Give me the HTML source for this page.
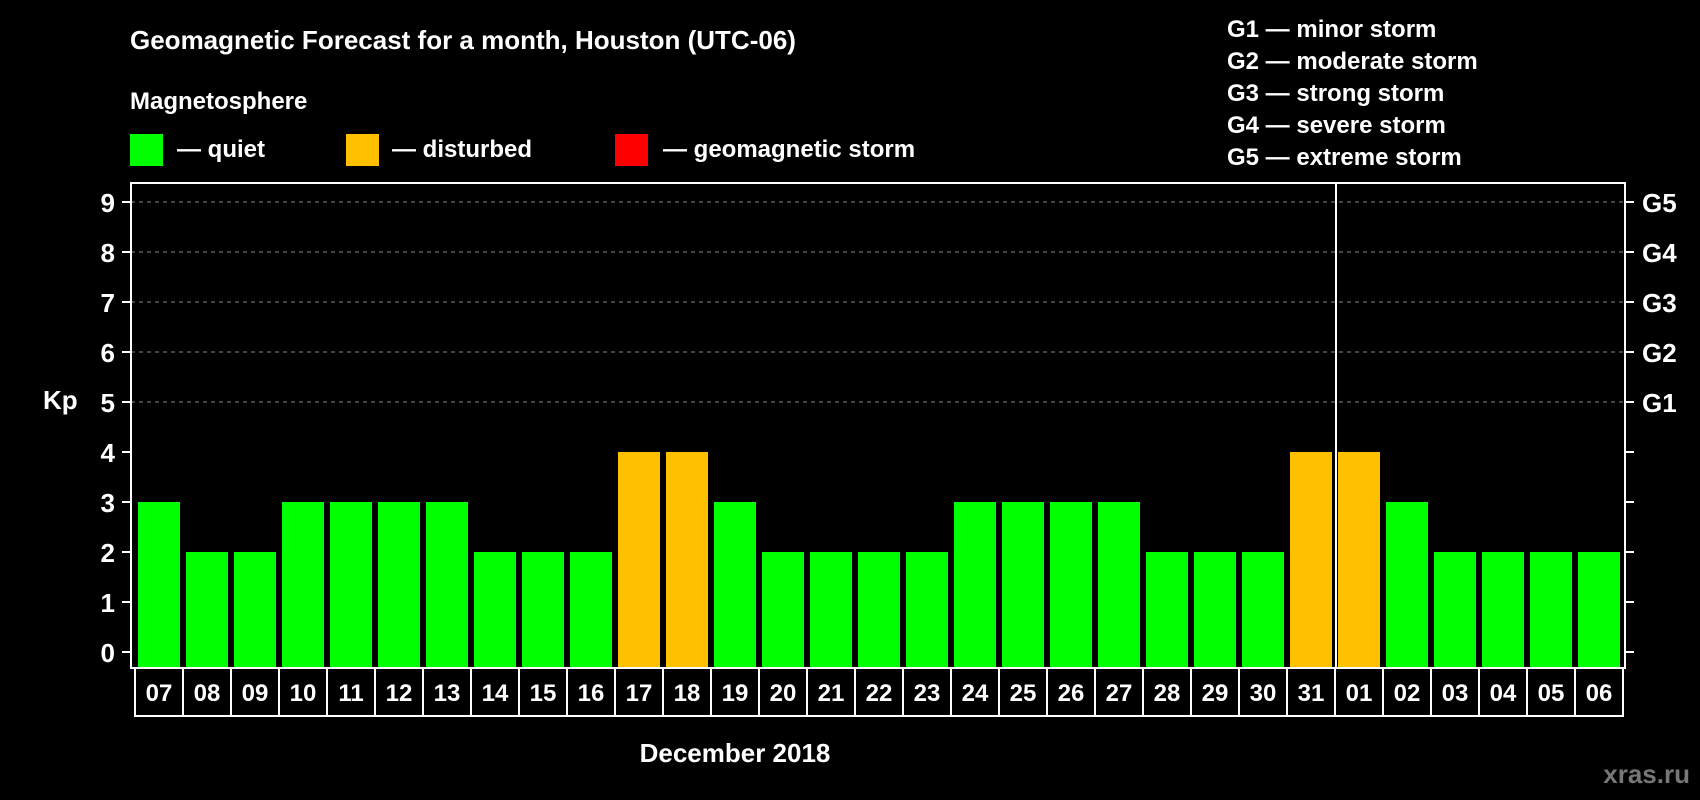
<!DOCTYPE html>
<html><head><meta charset="utf-8"><style>
body{margin:0;background:#000;}
svg{display:block;font-family:"Liberation Sans",Arial,sans-serif;font-weight:bold;}
</style></head><body>
<svg id="c" width="1700" height="800" viewBox="0 0 1700 800">
<rect width="1700" height="800" fill="#000"/>
<text x="130" y="49" fill="#fff" font-size="26">Geomagnetic Forecast for a month, Houston (UTC-06)</text>
<text x="130" y="109" fill="#fff" font-size="24">Magnetosphere</text>
<g>
<rect x="130" y="134" width="33" height="32" fill="#00ff00"/>
<text x="177" y="157" fill="#fff" font-size="24">— quiet</text>
<rect x="346" y="134" width="33" height="32" fill="#ffc000"/>
<text x="392" y="157" fill="#fff" font-size="24">— disturbed</text>
<rect x="615" y="134" width="33" height="32" fill="#ff0000"/>
<text x="663" y="157" fill="#fff" font-size="24">— geomagnetic storm</text>
</g>
<g fill="#fff" font-size="24">
<text x="1227" y="37">G1 — minor storm</text>
<text x="1227" y="69">G2 — moderate storm</text>
<text x="1227" y="101">G3 — strong storm</text>
<text x="1227" y="133">G4 — severe storm</text>
<text x="1227" y="165">G5 — extreme storm</text>
</g>
<text x="43" y="409" fill="#fff" font-size="26">Kp</text>
<text x="735" y="762" fill="#fff" font-size="26" text-anchor="middle">December 2018</text>
<text x="1690" y="783" fill="#777" font-size="26" text-anchor="end">xras.ru</text>
<g id="plot"></g>
</svg>
<script>
const days=["07","08","09","10","11","12","13","14","15","16","17","18","19","20","21","22","23","24","25","26","27","28","29","30","31","01","02","03","04","05","06"];
const kp=[3,2,2,3,3,3,3,2,2,2,4,4,3,2,2,2,2,3,3,3,3,2,2,2,4,4,3,2,2,2,2];
const yTicks=[0,1,2,3,4,5,6,7,8,9];
const gLabels=["G1","G2","G3","G4","G5"];
const gLevels=[5,6,7,8,9];
const monthBreak=25;
const NS="http://www.w3.org/2000/svg";
const g=document.getElementById('plot');
const L=131,R=1625,T=183,B=668,x0=135,step=48;
function y(v){return 652-50*v;}
function xb(i){return x0+step*i;}
function mk(t,a,p){const e=document.createElementNS(NS,t);for(const k in a)e.setAttribute(k,a[k]);(p||g).appendChild(e);return e;}
function col(v){return v>=5?"#ff0000":v>=4?"#ffc000":"#00ff00";}
for(const v of yTicks){
 if(v>=1&&v<=9&&v>=5){const l=mk('line',{x1:L,x2:R,y1:y(v),y2:y(v),stroke:"#888","stroke-dasharray":"4 4","stroke-width":1});
 
 }
 const t=mk('line',{x1:122,x2:L,y1:y(v),y2:y(v),stroke:"#fff","stroke-width":2});
 
 
 const t2=mk('line',{x1:R,x2:1634,y1:y(v),y2:y(v),stroke:"#fff","stroke-width":2});
 
 
 const tx=mk('text',{x:115,y:y(v)+10,fill:"#fff","font-size":26,"text-anchor":"end"});tx.textContent=v;
 
 
}
gLabels.forEach((s,i)=>{const tx=mk('text',{x:1642,y:y(gLevels[i])+10,fill:"#fff","font-size":26});tx.textContent=s;
 
 });
kp.forEach((v,i)=>{
 const r=mk('rect',{x:xb(i)+3,y:y(v),width:42,height:y(0)-y(v)+16,fill:col(v)});
 
 
 const bx=mk('rect',{x:xb(i),y:B,width:step,height:48,fill:"none",stroke:"#fff","stroke-width":2});
 
 
 const tx=mk('text',{x:xb(i)+step/2,y:B+33,fill:"#fff","font-size":24,"text-anchor":"middle"});tx.textContent=days[i];
 
 
});
const fr=mk('rect',{x:L,y:T,width:R-L,height:B-T,fill:"none",stroke:"#fff","stroke-width":2});


const ml=mk('line',{x1:xb(monthBreak)+1,x2:xb(monthBreak)+1,y1:T,y2:B,stroke:"#fff","stroke-width":2});


</script>
</body></html>
